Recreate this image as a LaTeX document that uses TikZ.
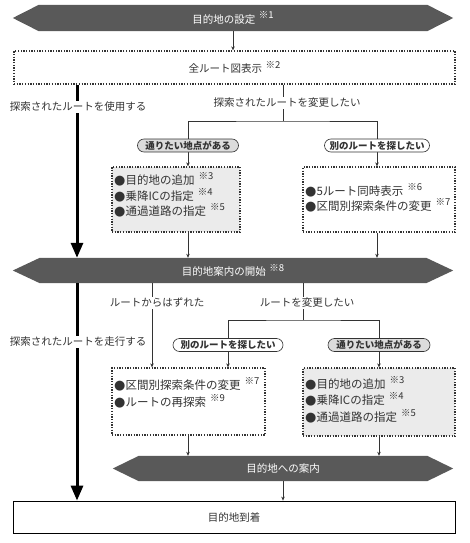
\documentclass[tikz,border=0pt]{standalone}
\usepackage{fontspec}
\setmainfont{Noto Sans CJK JP}
\newfontfamily\symf{DejaVu Sans}
\usetikzlibrary{arrows.meta,backgrounds,calc}
\definecolor{hexgray}{HTML}{595959}
\definecolor{boxgray}{HTML}{EBEBEB}
\definecolor{pillgray}{HTML}{DCDCDC}
\definecolor{ink}{HTML}{333333}
\newcommand{\nt}[1]{\hspace{0.35em}\raisebox{0.42em}{\fontsize{9.5}{9.5}\selectfont ※#1}}
\newcommand{\bul}{{\symf\fontsize{13}{13}\selectfont ●}}
\newcommand{\hexfill}[2]{\fill[hexgray] (#1.west) -- ([xshift=#2]#1.north west) -- ([xshift=-#2]#1.north east) -- (#1.east) -- ([xshift=-#2]#1.south east) -- ([xshift=#2]#1.south west) -- cycle;}
\begin{document}
\begin{tikzpicture}[x=1pt,y=-1pt,
 hexnode/.style={inner sep=0pt, text=white, font=\fontsize{10.5}{12}\selectfont},
 dotbox/.style={draw=ink, line width=1.3pt, dash pattern=on 1.3pt off 1.4pt, inner sep=0pt, text=ink, font=\fontsize{10.5}{12}\selectfont},
 pill/.style={draw=ink, line width=0.6pt, rounded corners=6.5pt, minimum height=13pt, inner sep=0pt, font=\fontsize{9.5}{10}\selectfont\bfseries, text=ink},
 item/.style={anchor=west, inner sep=0pt, text height=8pt, text depth=2pt, font=\fontsize{11.5}{12}\selectfont, text=ink},
 lbl/.style={fill=white, inner sep=1.5pt, font=\fontsize{10.5}{12}\selectfont, text=ink},
 conn/.style={draw=ink, line width=0.6pt},
 arr/.style={conn, -{Stealth[length=4pt,width=3.5pt]}},
 mainarrow/.style={draw=black, line width=3pt, -{Triangle[length=15pt,width=12pt]}},
]
\useasboundingbox (0,0) rectangle (469,543);

% nodes
\node[hexnode, minimum width=440pt, minimum height=26pt] (h1) at (233,18) {目的地の設定\nt1};
\node[dotbox, minimum width=441pt, minimum height=33pt] (b1) at (234.5,67.5) {全ルート図表示\nt2};

\node[pill, fill=pillgray, minimum width=101pt] (p1) at (188,145.5) {通りたい地点がある};
\node[pill, fill=white, minimum width=105pt] (p2) at (377,145.5) {別のルートを探したい};

\node[dotbox, fill=boxgray, minimum width=128pt, minimum height=65pt] (b2) at (176,199.5) {};
\node[dotbox, fill=white, minimum width=152pt, minimum height=65pt] (b3) at (379,199.5) {};

\node[item] (t1) at (114,181) {\bul 目的地の追加\nt3};
\node[item] (t2) at (114,197) {\bul 乗降ICの指定\nt4};
\node[item] (t3) at (114,212.5) {\bul 通過道路の指定\nt5};
\node[item] (t4) at (305,192) {\bul 5ルート同時表示\nt6};
\node[item] (t5) at (305,207.5) {\bul 区間別探索条件の変更\nt7};

\node[hexnode, minimum width=440pt, minimum height=25pt] (h2) at (233,270.5) {目的地案内の開始\nt8};

\node[pill, fill=white, minimum width=110pt] (p3) at (228,345) {別のルートを探したい};
\node[pill, fill=pillgray, minimum width=102pt] (p4) at (379,345) {通りたい地点がある};

\node[dotbox, fill=white, minimum width=153pt, minimum height=67pt] (b4) at (188.5,401.5) {};
\node[dotbox, fill=boxgray, minimum width=152pt, minimum height=68pt] (b5) at (379,402) {};

\node[item] (t6) at (114,386) {\bul 区間別探索条件の変更\nt7};
\node[item] (t7) at (114,403) {\bul ルートの再探索\nt9};
\node[item] (t8) at (305,385) {\bul 目的地の追加\nt3};
\node[item] (t9) at (305,401.5) {\bul 乗降ICの指定\nt4};
\node[item] (t10) at (305,418) {\bul 通過道路の指定\nt5};

\node[hexnode, minimum width=340pt, minimum height=25pt] (h3) at (283,468.5) {目的地への案内};
\node[draw=black, line width=0.8pt, minimum width=442pt, minimum height=32pt, inner sep=0pt, text=ink, font=\fontsize{10.5}{12}\selectfont] (b6) at (234,517) {目的地到着};

\node[lbl] (l1) at (78,107) {探索されたルートを使用する};
\node[lbl] (l2) at (287,103) {探索されたルートを変更したい};
\node[lbl] (l3) at (78,342) {探索されたルートを走行する};
\node[lbl] (l4) at (157,303) {ルートからはずれた};
\node[lbl] (l5) at (307,303) {ルートを変更したい};

\coordinate (j1) at (283,121);
\coordinate (j2) at (303,320);
\coordinate (ma) at (77,0);
\coordinate (dv) at (152,0);

\begin{scope}[on background layer]
\hexfill{h1}{26}
\hexfill{h2}{27}
\hexfill{h3}{26}
\draw[arr] (h1.south) -- (h1.south |- b1.north);
\draw[conn] (b1.south -| j1) -- (j1);
\draw[conn] (p1.north) |- (j1) -| (p2.north);
\draw[arr] (p1.south) -- (p1.south |- b2.north);
\draw[arr] (p2.south) -- (p2.south |- b3.north);
\draw[arr] (b2.south -| p1) -- (p1 |- h2.north);
\draw[arr] (b3.south -| p2) -- (p2 |- h2.north);
\draw[mainarrow] (b1.south -| ma) -- (ma |- h2.north);
\draw[mainarrow] (h2.south -| ma) -- (ma |- b6.north);
\draw[arr] (h2.south -| dv) -- (dv |- b4.north);
\draw[conn] (h2.south -| j2) -- (j2);
\draw[conn] (p3.north) |- (j2) -| (p4.north);
\draw[arr] (p3.south) -- (p3.south |- b4.north);
\draw[arr] (p4.south) -- (p4.south |- b5.north);
\draw[arr] (b4.south -| p1) -- (p1 |- h3.north);
\draw[arr] (b5.south -| p4) -- (p4 |- h3.north);
\draw[arr] (h3.south -| j1) -- (j1 |- b6.north);
\end{scope}
\end{tikzpicture}
\end{document}
